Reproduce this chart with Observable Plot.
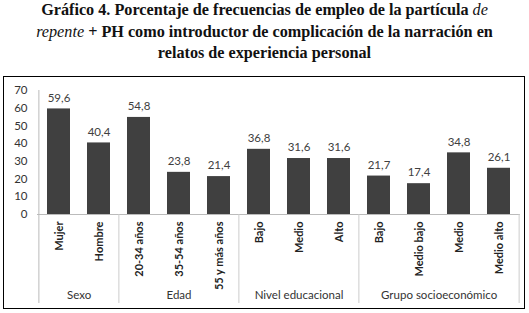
<!DOCTYPE html>
<html><head><meta charset="utf-8">
<script src="https://cdn.jsdelivr.net/npm/d3@7"></script>
<script src="https://cdn.jsdelivr.net/npm/@observablehq/plot@0.6"></script>
<style>
body{margin:0;background:#fff;width:529px;height:313px;overflow:hidden;position:relative;}
#title{position:absolute;left:0;top:0px;width:529px;text-align:center;font-family:"Liberation Serif",serif;font-weight:bold;font-size:16.2px;line-height:21.5px;color:#111;}
#chart{position:absolute;left:0;top:70px;}
#box{position:absolute;left:3px;top:76px;width:520px;height:231px;border:1.5px solid #000;pointer-events:none;}
</style></head><body>
<div id="title">Gráfico 4. Porcentaje de frecuencias de empleo de la partícula <i style="font-weight:normal">de</i><br><i style="font-weight:normal">repente</i> + PH como introductor de complicación de la narración en<br>relatos de experiencia personal</div>
<div id="chart"></div>
<div id="box"></div>
<script>
const groups = ["Sexo","Sexo","Edad","Edad","Edad","Nivel educacional","Nivel educacional","Nivel educacional","Grupo socioeconómico","Grupo socioeconómico","Grupo socioeconómico","Grupo socioeconómico"];
const categories = ["Mujer","Hombre","20-34 años","35-54 años","55 y más años","Bajo","Medio","Alto","Bajo","Medio bajo","Medio","Medio alto"];
const values = [59.6,40.4,54.8,23.8,21.4,36.8,31.6,31.6,21.7,17.4,34.8,26.1];
const groupNames = ["Sexo","Edad","Nivel educacional","Grupo socioeconómico"];
const yTicks = [0,10,20,30,40,50,60,70];

const W = 529, H = 243, mL = 37, mR = 9, mT = 20, mB = 99;
const pIn = 0.43, pOut = 0.215;
const step = (W - mL - mR) / (categories.length - pIn + 2 * pOut);
const data = categories.map((c, i) => ({key: String(i), label: c, group: groups[i], value: values[i]}));
const fmt = v => v.toFixed(1).replace(".", ",");

const groupData = groupNames.map(g => {
  const idx = data.filter(d => d.group === g).map(d => +d.key);
  const mid = (idx[0] + idx[idx.length - 1]) / 2;
  return {name: g, key: String(Math.floor(mid)), half: mid !== Math.floor(mid)};
});
const firsts = groupNames.map(g => data.find(d => d.group === g).key);
const last = data[data.length - 1].key;
const font = "Lato, 'Open Sans', sans-serif";

const plot = Plot.plot({
  width: W, height: H,
  marginLeft: mL, marginRight: mR, marginTop: mT, marginBottom: mB,
  style: {fontFamily: font, fontSize: "11px", color: "#333", background: "transparent", overflow: "visible"},
  x: {domain: data.map(d => d.key), paddingInner: pIn, paddingOuter: pOut, axis: null, label: null},
  y: {domain: [0, 70], axis: null, label: null},
  marks: [
    Plot.axisY({ticks: yTicks, tickSize: 0, tickPadding: 10, fontSize: 11.5, fill: "#333", label: null}),
    Plot.ruleY([0], {stroke: "#bbb", strokeWidth: 1}),
    Plot.ruleX([data[0].key], {dx: -step / 2, stroke: "#bbb", insetBottom: -89}),
    Plot.ruleX(firsts.slice(1), {dx: -step / 2, stroke: "#ccc", insetTop: 124, insetBottom: -89}),
    Plot.ruleX([last], {dx: step / 2, stroke: "#ccc", insetTop: 124, insetBottom: -89}),
    Plot.barY(data, {x: "key", y: "value", fill: "#404040"}),
    Plot.text(data, {x: "key", y: "value", text: d => fmt(d.value), dy: -11, fill: "#404040", fontSize: 11.5}),
    Plot.axisX({tickSize: 0, tickPadding: 7, tickRotate: -90, tickFormat: k => categories[+k], fontSize: 11, fill: "#222", fontWeight: "bold", label: null}),
    Plot.text(groupData.filter(d => !d.half), {x: "key", text: "name", frameAnchor: "bottom", dy: 84, fontSize: 11.5, fill: "#333"}),
    Plot.text(groupData.filter(d => d.half), {x: "key", dx: step / 2, text: "name", frameAnchor: "bottom", dy: 84, fontSize: 11.5, fill: "#333"})
  ]
});
document.getElementById("chart").appendChild(plot);
</script>
</body></html>
